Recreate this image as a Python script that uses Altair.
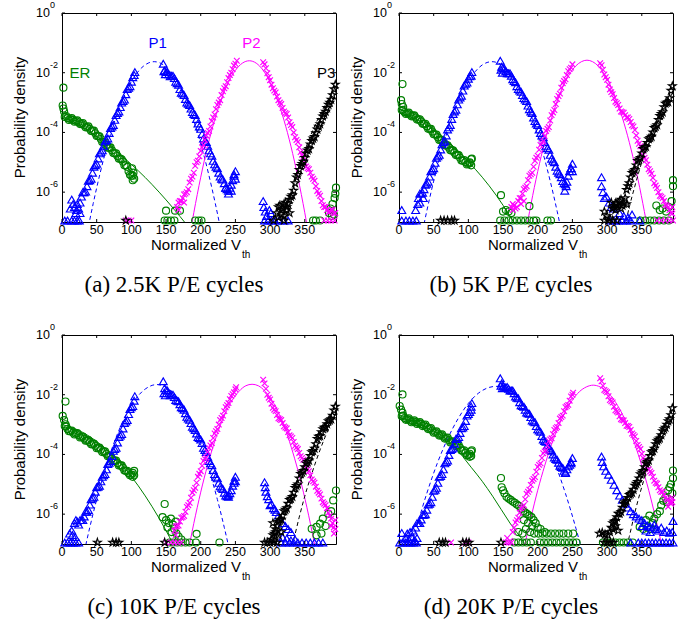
import altair as alt
import pandas as pd

STEP = 4
GREEN, BLUE, MAGENTA, BLACK = "#008000", "#0000FF", "#FF00FF", "#000000"
X_TICKS = [0, 50, 100, 150, 200, 250, 300, 350]
Y_TICKS = [1, 1e-2, 1e-4, 1e-6]
Y_SUPS = ["0", "-2", "-4", "-6"]
CAPTIONS = ["(a) 2.5K P/E cycles", "(b) 5K P/E cycles", "(c) 10K P/E cycles", "(d) 20K P/E cycles"]
STATE_LABELS = ["ER", "P1", "P2", "P3"]
STATE_LABEL_X = [26, 138, 273, 381]
STATE_LABEL_Y = [-2.0, -1.0, -1.0, -2.0]

# Values are log10(probability density). Dense bands are read every 4 Vth units
# (main list) plus the in-between positions (the *_MID lists).

# ---------------- panel (a) 2.5K ----------------
A_ER = [-3.48, -3.52, -3.55, -3.58, -3.62, -3.66, -3.71, -3.76, -3.82, -3.88, -3.95, -4.03, -4.12, -4.22,
        -4.33, -4.42, -4.51, -4.6, -4.7, -4.79, -4.88, -4.98, -5.1, -5.3, -5.45, -5.55]
A_ER_MID = [-3.45, -3.58, -3.52, -3.64, -3.6, -3.72, -3.69, -3.83, -3.8, -3.95, -3.94, -4.12, -4.13, -4.32, -4.33,
            -4.51, -4.5, -4.69, -4.7, -4.88, -4.9, -5.1, -5.15, -5.42, -5.45]
A_ER_EXTRA = [(2, -2.5), (1, -3.1), (2, -3.2), (3, -3.3), (101, -5.2), (103, -5.35), (102, -5.6), (150, -6.62),
              (163, -6.62), (170, -6.62), (148, -6.95), (152, -6.95), (157, -6.95), (162, -6.95), (192, -6.95),
              (197, -6.95), (201, -6.95), (362, -6.95), (366, -6.95), (372, -6.95), (395, -5.85), (394, -6.05),
              (393, -6.2), (390, -6.4), (387, -6.55), (385, -6.7), (389, -6.8), (392, -6.75)]
A_ER_FIT_X = [0, 20, 40, 60, 80, 100, 120, 140, 160, 180]
A_ER_FIT = [-3.45, -3.69, -3.97, -4.3, -4.66, -5.07, -5.51, -6.0, -6.53, -7.1]
A_P1L = [-6.15, -6.0, -5.8, -5.6, -5.35, -5.1, -4.87, -4.65, -4.45, -4.25, -4.02, -3.8, -3.58, -3.35, -3.15,
         -2.95, -2.72, -2.5, -2.3, -2.08]
A_P1L_MID = [-6.0, -5.98, -5.62, -5.55, -5.15, -5.05, -4.7, -4.6, -4.3, -4.2, -3.85, -3.75, -3.42, -3.3, -3.0, -2.9,
             -2.55, -2.45, -2.15]
A_P1R = [-1.7, -1.98, -2.05, -2.1, -2.18, -2.35, -2.55, -2.7, -2.88, -3.04, -3.2, -3.38, -3.55, -3.8, -4.05,
         -4.3, -4.45, -4.7, -4.95, -5.15, -5.35, -5.55, -5.7, -5.9, -5.85, -5.6, -5.3]
A_P1R_MID = [-1.92, -1.98, -2.12, -2.1, -2.3, -2.4, -2.67, -2.75, -3.0, -3.08, -3.32, -3.42, -3.7, -3.88, -4.2,
             -4.32, -4.6, -4.78, -5.07, -5.2, -5.48, -5.58, -5.85, -5.95, -5.75, -5.4]
A_P1_EXTRA = [(4, -6.95), (8, -6.95), (14, -6.95), (18, -6.95), (22, -6.95), (25, -6.95), (18, -6.5), (20, -6.7),
              (22, -6.4), (24, -6.55), (26, -6.7), (26, -6.35), (21, -6.6), (14, -6.25), (16, -6.4), (12, -6.55),
              (105, -1.98), (147, -1.95), (149, -2.05), (240, -6.05), (244, -5.95), (248, -5.45), (250, -5.55),
              (236, -5.85), (290, -6.3), (291, -6.5), (293, -6.65), (295, -6.8), (299, -6.6), (301, -6.7),
              (292, -6.95), (297, -6.95), (302, -6.95), (307, -6.95), (313, -6.95), (320, -6.95), (326, -6.95)]
A_P1_FIT_X = [38, 45, 55, 65, 75, 85, 95, 105, 115, 125, 133, 141, 151, 161, 171, 181, 191, 201, 211, 221, 228]
A_P1_FIT = [-7.16, -6.38, -5.36, -4.46, -3.69, -3.04, -2.52, -2.11, -1.83, -1.67, -1.63, -1.67, -1.83, -2.11,
            -2.52, -3.04, -3.69, -4.46, -5.36, -6.38, -7.16]
A_P2L = [-6.5, -6.3, -6.2, -6.05, -5.9, -5.55, -5.35, -5.0, -4.8, -4.5, -4.25, -4.02, -3.8, -3.5, -3.22, -3.0,
         -2.75, -2.52, -2.32, -2.08, -1.88, -1.7]
A_P2L_MID = [-6.35, -6.3, -6.08, -6.0, -5.68, -5.48, -5.12, -4.95, -4.62, -4.42, -4.1, -3.95, -3.62, -3.4, -3.08,
             -2.92, -2.62, -2.45, -2.18, -2.0, -1.76]
A_P2R = [-1.65, -1.85, -2.15, -2.4, -2.6, -2.8, -3.0, -3.18, -3.35, -3.5, -3.75, -4.0, -4.25, -4.5, -4.75, -5.0,
         -5.2, -5.35, -5.55, -5.8, -6.05, -6.3, -6.5, -6.6, -6.65, -6.6, -6.7]
A_P2R_MID = [-1.72, -2.02, -2.25, -2.52, -2.66, -2.92, -3.05, -3.3, -3.38, -3.66, -3.82, -4.16, -4.32, -4.66, -4.82,
             -5.14, -5.23, -5.48, -5.62, -5.96, -6.12, -6.44, -6.5, -6.68, -6.58, -6.72]
A_P2_EXTRA = [(252, -1.6), (168, -6.6), (176, -6.35), (378, -6.95), (383, -6.95), (388, -6.95), (393, -6.95),
              (92, -6.95), (96, -6.95), (100, -6.95)]
A_P2_FIT_X = [185, 190, 200, 210, 220, 230, 240, 250, 260, 270, 280, 290, 300, 310, 320, 330, 340, 350, 355]
A_P2_FIT = [-7.34, -6.69, -5.5, -4.46, -3.59, -2.87, -2.32, -1.92, -1.68, -1.6, -1.68, -1.92, -2.32, -2.87,
            -3.59, -4.46, -5.5, -6.69, -7.34]
A_P3 = [-6.7, -6.45, -6.55, -6.35, -6.4, -6.15, -5.95, -5.5, -5.25, -5.05, -4.85, -4.6, -4.4, -4.2, -4.02, -3.8,
        -3.58, -3.38, -3.18, -3.0, -2.75, -2.4]
A_P3_MID = [-6.5, -6.6, -6.4, -6.5, -6.25, -6.1, -5.7, -5.42, -5.12, -4.98, -4.7, -4.55, -4.28, -4.15, -3.9, -3.72,
            -3.46, -3.3, -3.07, -2.9, -2.55]
A_P3_EXTRA = [(312, -6.85), (316, -6.75), (320, -6.8), (324, -6.6), (328, -6.7), (305, -6.95), (320, -6.95),
              (92, -6.95)]
A_P3_FIT_X = [318, 325, 333, 343, 355, 370, 385, 395]
A_P3_FIT = [-7.2, -6.6, -5.9, -5.1, -4.3, -3.5, -2.85, -2.45]

# ---------------- panel (b) 5K ----------------
B_ER = [-3.25, -3.32, -3.36, -3.4, -3.44, -3.5, -3.56, -3.63, -3.71, -3.79, -3.88, -3.97, -4.07, -4.16, -4.25,
        -4.34, -4.43, -4.51, -4.6, -4.68, -4.75, -4.85, -4.95, -5.0, -5.05, -5.1]
B_ER_MID = [-3.24, -3.38, -3.34, -3.46, -3.43, -3.57, -3.56, -3.71, -3.71, -3.88, -3.88, -4.06, -4.07, -4.25,
            -4.25, -4.43, -4.43, -4.6, -4.6, -4.76, -4.76, -4.94, -4.93, -5.07, -5.03]
B_ER_EXTRA = [(5, -2.38), (3, -2.92), (4, -3.05), (6, -3.15), (104, -4.9), (105, -4.88), (102, -5.0), (147, -6.1),
              (150, -6.65), (154, -6.6), (158, -6.65), (162, -6.7), (188, -6.47), (146, -6.95), (152, -6.95),
              (158, -6.95), (164, -6.95), (170, -6.95), (176, -6.95), (182, -6.95), (188, -6.95), (194, -6.95),
              (198, -6.95), (214, -6.95), (219, -6.95), (348, -6.95), (355, -6.95), (362, -6.95), (368, -6.95),
              (375, -6.95), (382, -6.95), (389, -6.95), (371, -6.45), (376, -6.6), (380, -6.55), (385, -6.65),
              (389, -6.5), (393, -6.3), (395, -5.6), (395, -5.8)]
B_ER_FIT_X = [0, 20, 40, 60, 80, 100, 120, 140, 160, 168]
B_ER_FIT = [-3.35, -3.5, -3.75, -4.1, -4.5, -4.98, -5.5, -6.1, -6.8, -7.1]
B_P1L = [-6.2, -6.05, -5.9, -5.72, -5.48, -5.25, -5.02, -4.8, -4.57, -4.33, -4.1, -3.83, -3.55, -3.3, -3.06,
         -2.83, -2.6, -2.37, -2.2, -2.1]
B_P1L_MID = [-6.05, -6.02, -5.75, -5.65, -5.3, -5.2, -4.85, -4.75, -4.4, -4.28, -3.9, -3.75, -3.38, -3.24, -2.9,
             -2.77, -2.43, -2.33, -2.12]
B_P1R = [-1.6, -1.85, -1.95, -2.02, -2.1, -2.28, -2.45, -2.6, -2.75, -2.9, -3.1, -3.3, -3.5, -3.7, -3.9, -4.1,
         -4.32, -4.52, -4.75, -4.95, -5.15, -5.35, -5.5, -5.7, -5.65, -5.3, -5.05]
B_P1R_MID = [-1.8, -1.86, -2.02, -2.02, -2.22, -2.32, -2.55, -2.64, -2.85, -2.95, -3.22, -3.35, -3.62, -3.75,
             -4.02, -4.16, -4.45, -4.58, -4.88, -5.0, -5.28, -5.4, -5.63, -5.74, -5.45, -5.2]
B_P1_EXTRA = [(4, -6.95), (10, -6.95), (15, -6.95), (20, -6.95), (25, -6.95), (4, -6.6), (24, -6.6), (27, -6.4),
              (30, -6.35), (35, -6.2), (105, -1.98), (147, -1.9), (149, -2.0), (239, -5.95), (241, -5.8),
              (248, -5.2), (250, -5.3), (292, -5.5), (292, -5.8), (294, -6.0), (296, -6.2), (299, -6.15),
              (303, -6.35), (306, -6.5), (309, -6.55), (318, -6.7), (324, -6.8), (330, -6.85), (336, -6.75),
              (304, -6.95), (310, -6.95), (316, -6.95), (322, -6.95), (328, -6.95), (334, -6.95), (347, -6.95)]
B_P1_FIT_X = [34, 40, 50, 60, 70, 80, 90, 100, 110, 120, 134, 148, 158, 168, 178, 188, 198, 208, 218, 228, 234]
B_P1_FIT = [-7.3, -6.64, -5.63, -4.73, -3.95, -3.28, -2.73, -2.29, -1.96, -1.74, -1.63, -1.74, -1.96, -2.29,
            -2.73, -3.28, -3.95, -4.73, -5.63, -6.64, -7.3]
B_P2L = [-6.5, -6.45, -6.5, -6.2, -6.05, -5.85, -5.6, -5.4, -5.15, -4.85, -4.58, -4.35, -4.12, -3.88, -3.6, -3.33,
         -3.05, -2.78, -2.5, -2.28, -2.08, -1.88, -1.72]
B_P2L_MID = [-6.4, -6.55, -6.3, -6.2, -5.9, -5.8, -5.45, -5.35, -4.95, -4.78, -4.42, -4.3, -3.95, -3.82, -3.42,
             -3.25, -2.88, -2.7, -2.35, -2.22, -1.95, -1.83]
B_P2R = [-1.68, -1.9, -2.15, -2.4, -2.65, -2.85, -3.02, -3.2, -3.32, -3.42, -3.5, -3.65, -3.8, -4.1, -4.38, -4.6,
         -4.85, -5.08, -5.3, -5.52, -5.78, -6.0, -6.15, -6.3, -6.45, -6.6, -6.72]
B_P2R_MID = [-1.75, -2.06, -2.24, -2.56, -2.72, -2.97, -3.08, -3.3, -3.34, -3.5, -3.55, -3.76, -3.92, -4.28, -4.46,
             -4.76, -4.93, -5.23, -5.38, -5.7, -5.86, -6.12, -6.2, -6.42, -6.5, -6.7]
B_P2_EXTRA = [(164, -6.6), (176, -6.4), (180, -6.3), (372, -6.95), (378, -6.95), (384, -6.95), (390, -6.95),
              (395, -6.95), (394, -6.5)]
B_P2_FIT_X = [181, 186, 195, 205, 215, 225, 235, 245, 255, 263, 271, 279, 287, 297, 307, 317, 327, 337, 347, 356, 361]
B_P2_FIT = [-7.57, -6.93, -5.85, -4.8, -3.9, -3.15, -2.54, -2.08, -1.77, -1.63, -1.58, -1.63, -1.77, -2.08, -2.54,
            -3.15, -3.9, -4.8, -5.85, -6.93, -7.57]
B_P3 = [-6.35, -6.5, -6.4, -6.3, -6.45, -6.2, -5.8, -5.5, -5.3, -5.1, -4.9, -4.7, -4.5, -4.35, -4.18, -4.0, -3.8,
        -3.58, -3.38, -3.15, -3.0, -2.85, -2.45]
B_P3_MID = [-6.55, -6.38, -6.45, -6.25, -6.38, -5.92, -5.7, -5.35, -5.25, -4.95, -4.85, -4.55, -4.48, -4.22, -4.14,
            -3.85, -3.75, -3.44, -3.32, -3.03, -2.98, -2.6]
B_P3_EXTRA = [(296, -6.65), (300, -6.8), (304, -6.88), (312, -6.6), (320, -6.55), (328, -6.4), (60, -6.95),
              (65, -6.95), (70, -6.95), (76, -6.95), (80, -6.95), (296, -6.95), (302, -6.95), (308, -6.95),
              (314, -6.95)]
B_P3_FIT_X = [325, 332, 340, 350, 362, 375, 388, 395]
B_P3_FIT = [-7.2, -6.5, -5.8, -5.0, -4.25, -3.55, -2.95, -2.65]

# ---------------- panel (c) 10K ----------------
C_ER = [-3.05, -3.15, -3.22, -3.27, -3.31, -3.36, -3.41, -3.47, -3.53, -3.59, -3.65, -3.71, -3.78, -3.84, -3.9,
        -3.98, -4.06, -4.14, -4.21, -4.29, -4.37, -4.45, -4.55, -4.63, -4.68, -4.7]
C_ER_MID = [-3.06, -3.22, -3.2, -3.33, -3.29, -3.43, -3.4, -3.54, -3.52, -3.66, -3.64, -3.79, -3.77, -3.92, -3.9,
            -4.06, -4.06, -4.22, -4.21, -4.37, -4.37, -4.54, -4.55, -4.7, -4.62]
C_ER_EXTRA = [(5, -2.23), (1, -2.71), (3, -2.85), (5, -2.99), (104, -4.55), (102, -4.75), (148, -5.66), (145, -6.1),
              (150, -6.2), (157, -6.15), (154, -6.3), (160, -6.35), (164, -6.25), (152, -6.45), (158, -6.6),
              (162, -6.5), (165, -6.65), (168, -6.75), (172, -6.85), (155, -6.95), (160, -6.95), (166, -6.95),
              (172, -6.95), (178, -6.95), (184, -6.95), (194, -6.66), (193, -6.95), (227, -6.95), (360, -6.49),
              (367, -6.43), (372, -6.32), (376, -6.15), (384, -5.99), (391, -5.54), (395, -5.21), (374, -6.65),
              (367, -6.71), (380, -6.4), (388, -5.9)]
C_ER_FIT_X = [0, 20, 40, 60, 80, 100, 120, 140, 160, 170]
C_ER_FIT = [-3.0, -3.15, -3.4, -3.75, -4.19, -4.74, -5.39, -6.14, -6.99, -7.45]
C_P1L = [-6.35, -6.2, -6.08, -5.92, -5.68, -5.45, -5.25, -5.08, -4.9, -4.7, -4.5, -4.28, -4.05, -3.82, -3.6,
         -3.37, -3.13, -2.9, -2.65, -2.42, -2.2]
C_P1L_MID = [-6.2, -6.2, -5.92, -5.86, -5.5, -5.42, -5.1, -5.05, -4.75, -4.66, -4.32, -4.22, -3.88, -3.78, -3.42,
             -3.32, -2.95, -2.85, -2.48, -2.38]
C_P1R = [-1.55, -1.85, -1.95, -2.0, -2.08, -2.2, -2.32, -2.45, -2.62, -2.8, -2.95, -3.12, -3.3, -3.45, -3.62,
         -3.85, -4.08, -4.3, -4.52, -4.75, -4.95, -5.12, -5.28, -5.4, -5.3, -5.05, -4.75]
C_P1R_MID = [-1.78, -1.86, -2.02, -2.0, -2.18, -2.22, -2.42, -2.5, -2.74, -2.84, -3.07, -3.18, -3.42, -3.5, -3.78,
             -3.92, -4.22, -4.36, -4.66, -4.8, -5.07, -5.16, -5.38, -5.42, -5.2, -4.88]
C_P1_EXTRA = [(4, -6.95), (8, -6.95), (12, -6.95), (16, -6.95), (20, -6.95), (24, -6.95), (11, -6.65), (15, -6.7),
              (19, -6.77), (14, -6.55), (18, -6.3), (20, -6.2), (22, -6.25), (105, -2.05), (147, -1.95),
              (149, -2.02), (240, -5.35), (248, -4.95), (250, -4.9), (292, -4.93), (293, -5.1), (294, -5.25),
              (296, -5.4), (298, -5.5), (300, -5.7), (302, -5.66), (305, -5.8), (307, -5.85), (309, -5.93),
              (312, -6.05), (314, -6.15), (318, -6.3), (322, -6.4), (326, -6.5), (330, -6.6), (318, -6.78),
              (324, -6.82), (330, -6.88), (336, -6.85), (316, -6.95), (322, -6.95), (328, -6.95), (334, -6.95),
              (340, -6.95), (346, -6.95), (352, -6.95), (358, -6.95), (364, -6.95), (370, -6.95), (376, -6.95)]
C_P1_FIT_X = [32, 40, 50, 60, 70, 80, 90, 100, 110, 120, 137, 154, 164, 174, 184, 194, 204, 214, 224, 234, 242]
C_P1_FIT = [-7.27, -6.45, -5.51, -4.68, -3.94, -3.31, -2.78, -2.36, -2.03, -1.81, -1.66, -1.81, -2.03, -2.36,
            -2.78, -3.31, -3.94, -4.68, -5.51, -6.45, -7.27]
C_P2L = [-6.55, -6.4, -6.25, -6.1, -5.92, -5.7, -5.45, -5.2, -4.95, -4.65, -4.38, -4.15, -3.92, -3.7, -3.45,
         -3.22, -3.0, -2.78, -2.55, -2.35, -2.15, -1.98, -1.82]
C_P2L_MID = [-6.42, -6.38, -6.12, -6.06, -5.76, -5.62, -5.28, -5.12, -4.75, -4.56, -4.22, -4.1, -3.78, -3.62, -3.3,
             -3.15, -2.85, -2.7, -2.42, -2.28, -2.04, -1.92]
C_P2R = [-1.5, -1.8, -2.1, -2.3, -2.5, -2.68, -2.82, -2.95, -3.1, -3.25, -3.4, -3.58, -3.77, -3.95, -4.12, -4.32,
         -4.5, -4.7, -4.9, -5.08, -5.28, -5.48, -5.65, -5.8, -6.05, -6.3, -6.5]
C_P2R_MID = [-1.62, -2.0, -2.16, -2.44, -2.55, -2.79, -2.85, -3.06, -3.13, -3.36, -3.45, -3.71, -3.82, -4.06, -4.18,
             -4.45, -4.56, -4.84, -4.95, -5.22, -5.34, -5.6, -5.7, -5.96, -6.15, -6.44]
C_P2_EXTRA = [(251, -1.75), (150, -6.95), (157, -6.95), (162, -6.95), (167, -6.95), (172, -6.95), (164, -6.7),
              (392, -6.65), (394, -6.2), (388, -6.4)]
C_P2_FIT_X = [180, 185, 195, 205, 215, 225, 235, 245, 255, 265, 274, 283, 293, 303, 313, 323, 333, 343, 353, 363, 368]
C_P2_FIT = [-7.48, -6.88, -5.77, -4.79, -3.95, -3.23, -2.65, -2.2, -1.89, -1.7, -1.65, -1.7, -1.89, -2.2, -2.65,
            -3.23, -3.95, -4.79, -5.77, -6.88, -7.48]
C_P3 = [-6.85, -6.65, -6.4, -6.2, -6.05, -5.85, -5.65, -5.48, -5.28, -5.05, -4.8, -4.6, -4.42, -4.25, -4.05,
        -3.88, -3.65, -3.4, -3.25, -3.1, -2.98, -2.85, -2.7, -2.4]
C_P3_MID = [-6.7, -6.6, -6.25, -6.18, -5.9, -5.8, -5.52, -5.42, -5.12, -5.0, -4.65, -4.55, -4.3, -4.2, -3.92, -3.8,
            -3.48, -3.38, -3.15, -3.08, -2.88, -2.82, -2.52]
C_P3_EXTRA = [(304, -6.3), (308, -6.5), (312, -6.7), (316, -6.6), (306, -6.88), (292, -6.95), (296, -6.95),
              (300, -6.95), (305, -6.95), (310, -6.95), (51, -6.95), (73, -6.95), (78, -6.95), (82, -6.95),
              (148, -6.95)]
C_P3_FIT_X = [328, 334, 342, 350, 360, 372, 385, 395]
C_P3_FIT = [-7.3, -6.85, -6.1, -5.4, -4.65, -3.85, -3.1, -2.6]

# ---------------- panel (d) 20K ----------------
D_ER = [-2.72, -2.78, -2.82, -2.86, -2.89, -2.92, -2.95, -2.98, -3.02, -3.08, -3.14, -3.2, -3.25, -3.3, -3.35,
        -3.4, -3.45, -3.52, -3.58, -3.64, -3.7, -3.78, -3.87, -3.95, -4.02, -4.05]
D_ER_MID = [-2.7, -2.84, -2.79, -2.92, -2.86, -2.98, -2.92, -3.05, -3.0, -3.15, -3.12, -3.27, -3.23, -3.37, -3.33,
            -3.47, -3.44, -3.6, -3.56, -3.72, -3.69, -3.87, -3.86, -4.03, -3.98]
D_ER_EXTRA = [(5, -1.99), (1, -2.38), (3, -2.5), (5, -2.6), (104, -3.9), (105, -3.86), (102, -4.08),
              (147, -4.79), (148, -5.1), (150, -5.2), (152, -5.3), (155, -5.42), (158, -5.48), (161, -5.52),
              (164, -5.58), (167, -5.62), (170, -5.68), (173, -5.72), (176, -5.82), (179, -5.9), (182, -5.95),
              (185, -6.0), (188, -6.05), (191, -6.1), (194, -6.2), (197, -6.3), (200, -6.45), (204, -6.5),
              (210, -6.6), (180, -6.2), (186, -6.3), (192, -6.4), (183, -6.5), (189, -6.6), (195, -6.65),
              (201, -6.65), (207, -6.65), (213, -6.65), (219, -6.65), (225, -6.65), (231, -6.65), (237, -6.65),
              (244, -6.65), (251, -6.65), (178, -6.65), (172, -6.6), (166, -6.95), (172, -6.95), (178, -6.95),
              (184, -6.95), (190, -6.95), (203, -6.95), (209, -6.95), (215, -6.95), (221, -6.95), (227, -6.95),
              (233, -6.95), (239, -6.95), (245, -6.95), (251, -6.95), (256, -6.95), (294, -6.95), (300, -6.95),
              (306, -6.95), (312, -6.95), (318, -6.95), (324, -6.95), (330, -6.95), (337, -6.95), (347, -6.43),
              (352, -6.5), (358, -6.45), (363, -6.5), (366, -6.3), (361, -6.05), (368, -6.15), (372, -6.0),
              (376, -5.9), (378, -5.7), (381, -5.55), (384, -5.45), (386, -5.6), (388, -5.2), (390, -5.1),
              (392, -5.0), (394, -5.3), (395, -4.54), (395, -4.8), (356, -6.2)]
D_ER_FIT_X = [0, 20, 40, 60, 80, 104, 120, 135, 160, 181, 186]
D_ER_FIT = [-2.75, -2.9, -3.1, -3.35, -3.75, -4.43, -4.9, -5.4, -6.3, -6.99, -7.2]
D_P1L = [-6.45, -6.3, -6.18, -6.02, -5.85, -5.65, -5.42, -5.18, -4.95, -4.72, -4.5, -4.25, -4.02, -3.82, -3.64,
         -3.47, -3.28, -3.1, -2.88, -2.65, -2.4]
D_P1L_MID = [-6.3, -6.3, -6.02, -6.0, -5.68, -5.6, -5.22, -5.12, -4.75, -4.66, -4.3, -4.2, -3.85, -3.78, -3.48,
             -3.42, -3.12, -3.05, -2.7, -2.58]
D_P1R = [-1.45, -1.7, -1.75, -1.8, -1.86, -1.95, -2.1, -2.25, -2.38, -2.5, -2.62, -2.75, -2.9, -3.05, -3.2,
         -3.38, -3.55, -3.7, -3.85, -4.0, -4.15, -4.28, -4.42, -4.55, -4.5, -4.35, -4.12]
D_P1R_MID = [-1.62, -1.76, -1.74, -1.86, -1.86, -2.06, -2.12, -2.35, -2.4, -2.6, -2.64, -2.86, -2.92, -3.16, -3.24,
             -3.5, -3.58, -3.8, -3.88, -4.1, -4.18, -4.38, -4.45, -4.6, -4.4, -4.25]
D_P1_EXTRA = [(105, -2.28), (104, -2.5), (1, -6.95), (5, -6.95), (9, -6.95), (13, -6.95), (17, -6.95), (21, -6.95),
              (25, -6.95), (4, -6.63), (10, -6.8), (14, -6.85), (18, -6.77), (22, -6.88), (26, -6.8), (12, -6.65),
              (16, -6.6), (20, -6.55), (147, -1.7), (149, -1.78), (240, -4.62), (248, -4.3), (292, -4.07),
              (293, -4.25), (295, -4.4), (298, -4.55), (302, -4.68), (306, -4.85), (310, -5.02), (314, -5.2),
              (318, -5.38), (322, -5.52), (326, -5.65), (330, -5.78), (334, -5.9), (338, -6.0), (342, -6.08),
              (346, -6.15), (350, -6.2), (354, -6.3), (358, -6.38), (362, -6.42), (366, -6.45), (370, -6.5),
              (374, -6.55), (378, -6.45), (382, -6.6), (386, -6.55), (390, -6.62), (394, -6.6), (395, -6.23),
              (350, -6.4), (356, -6.55), (362, -6.6), (368, -6.35), (334, -6.95), (345, -6.95), (350, -6.95),
              (355, -6.95), (360, -6.95), (365, -6.95), (370, -6.95), (375, -6.95), (380, -6.95), (385, -6.95),
              (390, -6.95), (395, -6.95)]
D_P1_FIT_X = [15, 25, 40, 55, 70, 85, 100, 115, 128, 140, 152, 165, 180, 195, 210, 225, 240, 255, 265]
D_P1_FIT = [-7.33, -6.47, -5.31, -4.31, -3.48, -2.81, -2.29, -1.94, -1.77, -1.72, -1.77, -1.94, -2.29, -2.81,
            -3.48, -4.31, -5.31, -6.47, -7.33]
D_P2L = [-6.45, -6.2, -5.95, -5.75, -5.5, -5.25, -5.02, -4.82, -4.58, -4.35, -4.12, -3.9, -3.7, -3.5, -3.32,
         -3.12, -2.95, -2.75, -2.55, -2.38, -2.2, -2.0]
D_P2L_MID = [-6.28, -6.12, -5.8, -5.7, -5.32, -5.18, -4.88, -4.76, -4.42, -4.3, -3.96, -3.86, -3.56, -3.46, -3.18,
             -3.08, -2.8, -2.7, -2.42, -2.34, -2.06]
D_P2R = [-1.45, -1.7, -1.88, -2.05, -2.22, -2.4, -2.56, -2.72, -2.85, -2.95, -3.05, -3.18, -3.35, -3.55, -3.75,
         -3.98, -4.2, -4.38, -4.57, -4.75, -4.95, -5.1, -5.25, -5.35, -5.5, -5.6, -5.45]
D_P2R_MID = [-1.55, -1.84, -1.92, -2.18, -2.26, -2.52, -2.6, -2.82, -2.86, -3.04, -3.08, -3.3, -3.4, -3.68, -3.82,
             -4.12, -4.24, -4.5, -4.62, -4.88, -4.98, -5.2, -5.26, -5.45, -5.52, -5.58]
D_P2_EXTRA = [(251, -1.93), (164, -6.6), (156, -6.8), (160, -6.9), (154, -6.95), (158, -6.95), (162, -6.95),
              (75, -6.95), (95, -6.95), (100, -6.95), (388, -5.75), (392, -5.65), (394, -5.6)]
D_P2_FIT_X = [176, 182, 190, 200, 210, 220, 230, 240, 250, 260, 270, 280, 290, 300, 310, 320, 330, 340, 350, 360,
              370, 378, 384]
D_P2_FIT = [-7.63, -6.96, -6.14, -5.2, -4.38, -3.66, -3.06, -2.56, -2.18, -1.9, -1.74, -1.68, -1.74, -1.9, -2.18,
            -2.56, -3.06, -3.66, -4.38, -5.2, -6.14, -6.96, -7.63]
D_P3 = [-6.45, -6.25, -6.1, -5.98, -5.78, -5.6, -5.45, -5.32, -5.18, -4.98, -4.8, -4.6, -4.42, -4.25, -4.05,
        -3.88, -3.65, -3.5, -3.35, -3.15, -3.0, -2.82, -2.45]
D_P3_MID = [-6.3, -6.22, -5.98, -5.92, -5.65, -5.56, -5.35, -5.28, -5.04, -4.92, -4.66, -4.55, -4.3, -4.2, -3.92,
            -3.8, -3.55, -3.46, -3.22, -3.1, -2.88, -2.68]
D_P3_EXTRA = [(289, -6.65), (293, -6.62), (297, -6.68), (301, -6.7), (304, -6.6), (308, -6.5), (312, -6.4),
              (316, -6.55), (296, -6.95), (300, -6.95), (305, -6.95), (309, -6.95), (58, -6.95), (63, -6.95),
              (67, -6.95), (92, -6.95), (97, -6.95), (101, -6.95), (147, -6.95)]
D_P3_FIT_X = [326, 332, 340, 348, 358, 370, 383, 395]
D_P3_FIT = [-7.3, -6.75, -5.95, -5.25, -4.5, -3.7, -3.0, -2.5]

ER_START, P1R_START, P2R_START = 4, 146, 290

W, H = 274, 209
STAR = ("M0,-1L0.2245,-0.309L0.951,-0.309L0.363,0.118L0.588,0.809L0,0.382L-0.588,0.809"
        "L-0.363,0.118L-0.951,-0.309L-0.2245,-0.309Z")
XMARK = "M-1,-1L1,1M-1,1L1,-1"
FONT = "Liberation Sans"


def to_df(pairs):
    return pd.DataFrame({"x": [p[0] for p in pairs], "y": [10.0 ** p[1] for p in pairs]})


def band(start, vals, mid):
    main = [(start + STEP * i, v) for i, v in enumerate(vals)]
    half = [(start + STEP // 2 + STEP * i, v) for i, v in enumerate(mid)]
    return main + half


def panel(er, er_mid, er_x, er_fit, p1l, p1l_mid, p1l_s, p1r, p1r_mid, p1_x, p1_fit,
          p2l, p2l_mid, p2l_s, p2r, p2r_mid, p2_x, p2_fit, p3, p3_mid, p3_s, p3_x, p3_fit,
          extras, caption, labels=False, anchor=False):
    xs = alt.Scale(domain=[0, 395], nice=False, zero=False)
    ys = alt.Scale(type="log", domain=[1e-7, 1], nice=False)
    X = alt.X("x:Q", scale=xs, axis=None)
    Y = alt.Y("y:Q", scale=ys, axis=None)
    one = pd.DataFrame({"a": [0]})
    layers = []
    fits = [(er_x, er_fit, GREEN, None), (p1_x, p1_fit, BLUE, [4, 3]),
            (p2_x, p2_fit, MAGENTA, None), (p3_x, p3_fit, BLACK, [4, 3])]
    for fx, fy, col, dash in fits:
        kw = dict(color=col, strokeWidth=1, clip=True, interpolate="monotone")
        if dash:
            kw["strokeDash"] = dash
        layers.append(alt.Chart(to_df(list(zip(fx, fy)))).mark_line(**kw).encode(X, Y))
    er_e, p1_e, p2_e, p3_e = extras
    series = [
        (band(ER_START, er, er_mid) + er_e, "circle", GREEN, 50),
        (band(p1l_s, p1l, p1l_mid) + band(P1R_START, p1r, p1r_mid) + p1_e, "triangle-up", BLUE, 62),
        (band(p2l_s, p2l, p2l_mid) + band(P2R_START, p2r, p2r_mid) + p2_e, XMARK, MAGENTA, 32),
        (band(p3_s, p3, p3_mid) + p3_e, STAR, BLACK, 66),
    ]
    for pairs, shape, col, size in series:
        layers.append(alt.Chart(to_df(pairs)).mark_point(
            shape=shape, filled=False, color=col, size=size, strokeWidth=1.15, opacity=1).encode(X, Y))
    xt = pd.DataFrame({"x": X_TICKS, "lab": [str(v) for v in X_TICKS]})
    yt = pd.DataFrame({"y": Y_TICKS, "sup": Y_SUPS})
    layers += [
        alt.Chart(xt).mark_rule(color="black", strokeWidth=1).encode(X, y=alt.value(H), y2=alt.value(H - 3)),
        alt.Chart(xt).mark_rule(color="black", strokeWidth=1).encode(X, y=alt.value(0), y2=alt.value(3)),
        alt.Chart(yt).mark_rule(color="black", strokeWidth=1).encode(Y, x=alt.value(0), x2=alt.value(3)),
        alt.Chart(yt).mark_rule(color="black", strokeWidth=1).encode(Y, x=alt.value(W), x2=alt.value(W - 3)),
        alt.Chart(xt).mark_text(font=FONT, fontSize=12.5, baseline="middle", align="center").encode(
            X, y=alt.value(H + 8), text="lab:N"),
        alt.Chart(yt).mark_text(font=FONT, fontSize=12.5, baseline="middle", align="left").encode(
            Y, x=alt.value(-26), text=alt.value("10")),
        alt.Chart(yt).mark_text(font=FONT, fontSize=9, baseline="middle", align="left", dy=-8).encode(
            Y, x=alt.value(-12), text="sup:N"),
        alt.Chart(one).mark_text(font=FONT, fontSize=15, baseline="middle", align="right").encode(
            x=alt.value(179), y=alt.value(H + 23), text=alt.value("Normalized V")),
        alt.Chart(one).mark_text(font=FONT, fontSize=10, baseline="middle", align="left").encode(
            x=alt.value(180), y=alt.value(H + 33), text=alt.value("th")),
        alt.Chart(one).mark_text(font=FONT, fontSize=15, baseline="middle", align="center", angle=270).encode(
            x=alt.value(-42), y=alt.value(H / 2), text=alt.value("Probability density")),
        alt.Chart(one).mark_text(font="Liberation Serif", fontSize=23, baseline="middle", align="center").encode(
            x=alt.value(112), y=alt.value(H + 63), text=alt.value(caption)),
    ]
    if labels:
        lab = pd.DataFrame({"x": STATE_LABEL_X, "y": [10.0 ** v for v in STATE_LABEL_Y], "t": STATE_LABELS,
                            "c": [GREEN, BLUE, MAGENTA, BLACK]})
        layers.append(alt.Chart(lab).mark_text(font=FONT, fontSize=15, baseline="middle", align="center").encode(
            X, Y, text="t:N", color=alt.Color("c:N", scale=None)))
    if anchor:
        layers.append(alt.Chart(one).mark_rect(opacity=0).encode(
            x=alt.value(-61), x2=alt.value(-60), y=alt.value(-12), y2=alt.value(-11)))
    return alt.layer(*layers).properties(width=W, height=H)


pa = panel(A_ER, A_ER_MID, A_ER_FIT_X, A_ER_FIT, A_P1L, A_P1L_MID, 28, A_P1R, A_P1R_MID, A_P1_FIT_X, A_P1_FIT,
           A_P2L, A_P2L_MID, 166, A_P2R, A_P2R_MID, A_P2_FIT_X, A_P2_FIT, A_P3, A_P3_MID, 310, A_P3_FIT_X, A_P3_FIT,
           (A_ER_EXTRA, A_P1_EXTRA, A_P2_EXTRA, A_P3_EXTRA), CAPTIONS[0], labels=True, anchor=True)
pb = panel(B_ER, B_ER_MID, B_ER_FIT_X, B_ER_FIT, B_P1L, B_P1L_MID, 28, B_P1R, B_P1R_MID, B_P1_FIT_X, B_P1_FIT,
           B_P2L, B_P2L_MID, 162, B_P2R, B_P2R_MID, B_P2_FIT_X, B_P2_FIT, B_P3, B_P3_MID, 306, B_P3_FIT_X, B_P3_FIT,
           (B_ER_EXTRA, B_P1_EXTRA, B_P2_EXTRA, B_P3_EXTRA), CAPTIONS[1])
pc = panel(C_ER, C_ER_MID, C_ER_FIT_X, C_ER_FIT, C_P1L, C_P1L_MID, 24, C_P1R, C_P1R_MID, C_P1_FIT_X, C_P1_FIT,
           C_P2L, C_P2L_MID, 162, C_P2R, C_P2R_MID, C_P2_FIT_X, C_P2_FIT, C_P3, C_P3_MID, 302, C_P3_FIT_X, C_P3_FIT,
           (C_ER_EXTRA, C_P1_EXTRA, C_P2_EXTRA, C_P3_EXTRA), CAPTIONS[2])
pd_ = panel(D_ER, D_ER_MID, D_ER_FIT_X, D_ER_FIT, D_P1L, D_P1L_MID, 24, D_P1R, D_P1R_MID, D_P1_FIT_X, D_P1_FIT,
            D_P2L, D_P2L_MID, 166, D_P2R, D_P2R_MID, D_P2_FIT_X, D_P2_FIT, D_P3, D_P3_MID, 306, D_P3_FIT_X,
            D_P3_FIT, (D_ER_EXTRA, D_P1_EXTRA, D_P2_EXTRA, D_P3_EXTRA), CAPTIONS[3])

chart = alt.concat(pa, pb, pc, pd_, columns=2, spacing={"row": 113, "column": 63}, bounds="flush").properties(
    padding=0, background="white").configure_view(stroke="black", strokeWidth=1)

chart.save("out.html", embed_options={"renderer": "svg", "actions": False})
